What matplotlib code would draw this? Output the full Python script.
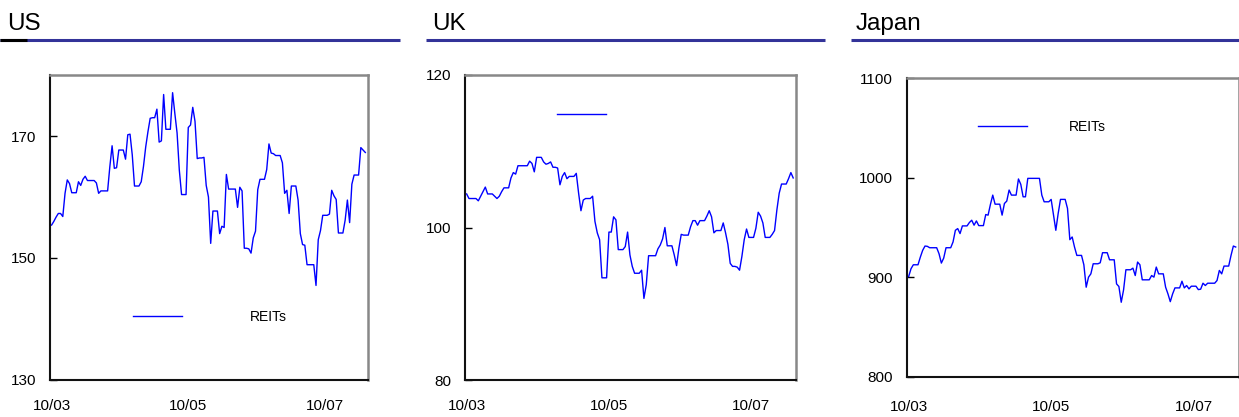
import matplotlib
matplotlib.use("Agg")
import matplotlib.pyplot as plt
from matplotlib.lines import Line2D
import pandas as pd

plt.rcParams['font.family'] = ['Liberation Sans', 'DejaVu Sans']

start = '2010-03-01'
tick_dates = ['2010-03-01', '2010-05-01', '2010-07-01']
tick_labels = ['10/03', '10/05', '10/07']

us = [155.4, 156.0, 156.7, 157.3, 157.3, 156.8, 160.6, 162.8, 162.2, 160.7,
      160.7, 160.7, 162.5, 161.9, 162.9, 163.4, 162.7, 162.7, 162.7, 162.7,
      162.3, 160.6, 161.0, 161.0, 161.0, 161.0, 165.0, 168.4, 164.7, 164.8,
      167.7, 167.7, 167.7, 166.2, 170.2, 170.3, 166.9, 161.8, 161.8, 161.8,
      162.5, 165.0, 168.2, 170.7, 172.9, 173.0, 173.0, 174.4, 169.0, 169.2,
      176.8, 171.1, 171.1, 171.1, 177.1, 173.7, 170.5, 164.4, 160.4, 160.4,
      160.4, 171.4, 171.8, 174.7, 172.4, 166.3, 166.4, 166.4, 166.5, 161.9,
      160.0, 152.4, 157.7, 157.7, 157.7, 154.0, 155.2, 155.0, 163.7, 161.3,
      161.3, 161.3, 161.3, 158.3, 161.6, 161.0, 151.6, 151.6, 151.5, 150.8,
      153.3, 154.4, 161.2, 162.9, 162.9, 162.9, 164.5, 168.7, 167.2, 167.1,
      166.8, 166.8, 166.8, 165.6, 160.6, 161.1, 157.3, 161.8, 161.8, 161.8,
      159.5, 154.0, 152.2, 152.1, 148.9, 148.9, 148.9, 148.9, 145.5, 153.0,
      154.5, 157.0, 157.0, 157.0, 157.2, 161.1, 160.2, 159.6, 154.1, 154.1,
      154.1, 156.2, 159.5, 155.8, 162.1, 163.6, 163.6, 163.6, 168.1, 167.7,
      167.3]

uk = [104.4, 103.8, 103.8, 103.8, 103.8, 103.5, 104.1, 104.7, 105.3, 104.4,
      104.4, 104.4, 104.1, 103.8, 104.1, 104.7, 105.2, 105.2, 105.2, 106.5,
      107.2, 107.0, 108.1, 108.1, 108.1, 108.1, 108.1, 108.7, 108.4, 107.3,
      109.2, 109.2, 109.2, 108.6, 108.3, 108.4, 108.6, 107.9, 107.9, 107.8,
      105.6, 106.7, 107.2, 106.4, 106.7, 106.7, 106.7, 107.1, 104.5, 102.2,
      103.6, 103.8, 103.8, 103.8, 104.1, 100.8, 99.3, 98.4, 93.4, 93.4,
      93.4, 99.4, 99.4, 101.4, 101.0, 97.1, 97.1, 97.1, 97.5, 99.4,
      96.4, 94.9, 94.0, 94.0, 94.0, 94.4, 90.7, 92.5, 96.3, 96.3,
      96.3, 96.3, 97.2, 97.7, 98.5, 100.0, 97.6, 97.6, 97.6, 96.4,
      95.0, 97.3, 99.1, 99.0, 99.0, 99.0, 100.1, 100.9, 100.9, 100.3,
      100.9, 100.9, 100.9, 101.5, 102.2, 101.4, 99.3, 99.6, 99.6, 99.6,
      100.6, 99.3, 97.8, 95.3, 94.9, 94.9, 94.8, 94.4, 96.2, 98.4,
      99.8, 98.7, 98.7, 98.7, 99.9, 102.0, 101.5, 100.6, 98.7, 98.7,
      98.7, 99.1, 99.6, 102.3, 104.5, 105.7, 105.7, 105.7, 106.4, 107.2,
      106.5]

japan = [900.8, 908.6, 912.6, 912.6, 912.6, 920.3, 927.1, 931.4, 931.1, 929.7,
         929.7, 929.7, 929.7, 923.7, 914.3, 919.3, 929.7, 929.7, 929.7, 935.5,
         947.2, 948.9, 943.9, 951.6, 951.6, 951.6, 955.0, 957.3, 952.3, 956.6,
         951.9, 951.9, 951.9, 963.0, 962.4, 973.1, 982.5, 973.4, 973.4, 973.4,
         962.4, 974.1, 976.5, 987.6, 982.5, 982.5, 982.5, 998.7, 993.3, 980.8,
         980.8, 999.3, 999.3, 999.3, 999.3, 999.3, 999.3, 982.5, 975.8, 975.8,
         975.8, 978.2, 962.4, 947.2, 964.0, 978.2, 978.2, 978.2, 969.1, 937.8,
         940.5, 930.4, 922.0, 922.0, 922.0, 912.6, 890.1, 900.2, 903.5, 913.6,
         913.6, 913.6, 914.6, 924.7, 924.7, 924.7, 917.6, 917.6, 917.6, 893.4,
         890.8, 875.0, 887.4, 907.6, 907.6, 907.6, 909.2, 901.8, 915.3, 912.6,
         897.5, 897.5, 897.5, 897.5, 901.8, 900.2, 910.3, 903.5, 903.5, 903.5,
         890.1, 883.4, 875.6, 883.4, 889.4, 889.4, 889.4, 896.1, 889.4, 891.8,
         888.4, 891.1, 891.1, 891.1, 887.7, 888.1, 894.1, 891.8, 894.1, 894.1,
         894.1, 894.1, 896.8, 906.9, 903.5, 911.3, 911.3, 911.3, 922.0, 931.4,
         930.4]

titles = ['US', 'UK', 'Japan']
series = [us, uk, japan]
ylims = [(130, 180), (80, 120), (800, 1100)]
yticks = [[130, 150, 170], [80, 100, 120], [800, 900, 1000, 1100]]
legend_labels = ['REITs', '', 'REITs']

W, H = 1239, 417
fig = plt.figure(figsize=(W / 100, H / 100), dpi=100)

# panel boxes in pixels: left, top, right, bottom
boxes = [(50, 75, 368, 380), (465, 75, 796, 380), (907, 78, 1238.5, 377)]
title_x = [7, 432, 856]
rule_spans = [(0, 400), (426, 825), (851, 1239)]
legend_anchor = [(0.261, 0.207), (0.278, 0.869), (0.2145, 0.836)]
legend_gap = [4.9, 3.0, 3.0]
xpad = [14, 14, 16.5]

dates = pd.date_range(start, periods=len(us), freq='D')
x0 = pd.Timestamp(start)

for i in range(3):
    l, t, r, b = boxes[i]
    ax = fig.add_axes([l / W, 1 - b / H, (r - l) / W, (b - t) / H])
    ln, = ax.plot(dates, series[i], color='#0000ff', lw=1.0)
    ax.set_ylim(*ylims[i])
    ax.set_yticks(yticks[i])
    ax.set_xticks(pd.to_datetime(tick_dates))
    ax.set_xticklabels(tick_labels)
    ax.set_xlim(x0 - pd.Timedelta(hours=17), x0 + pd.Timedelta(days=141.2))
    ax.tick_params(axis='y', direction='in', length=5, width=1, labelsize=11, pad=10)
    ax.tick_params(axis='x', length=0, labelsize=11, pad=xpad[i])
    for s in ['left', 'bottom']:
        ax.spines[s].set_color('#111111')
        ax.spines[s].set_linewidth(1.5)
    for s in ['top', 'right']:
        ax.spines[s].set_color('#888888')
        ax.spines[s].set_linewidth(1.8)
    ax.legend([ln], [legend_labels[i]], loc='center left', bbox_to_anchor=legend_anchor[i],
              frameon=False, borderpad=0, borderaxespad=0, handlelength=3.5,
              handletextpad=legend_gap[i], fontsize=10)

    # panel title and rule under it
    fig.text(title_x[i] / W, 1 - 30 / H, titles[i], fontsize=17.5, va='baseline', ha='left')
    x1, x2 = rule_spans[i]
    fig.add_artist(Line2D([x1 / W, x2 / W], [1 - 39.5 / H] * 2, transform=fig.transFigure,
                          color='#333399', lw=2.2, solid_capstyle='butt'))

fig.add_artist(Line2D([0, 27 / W], [1 - 39.5 / H] * 2, transform=fig.transFigure,
                      color='black', lw=2.2, solid_capstyle='butt'))

fig.savefig('out.png', dpi=100)
